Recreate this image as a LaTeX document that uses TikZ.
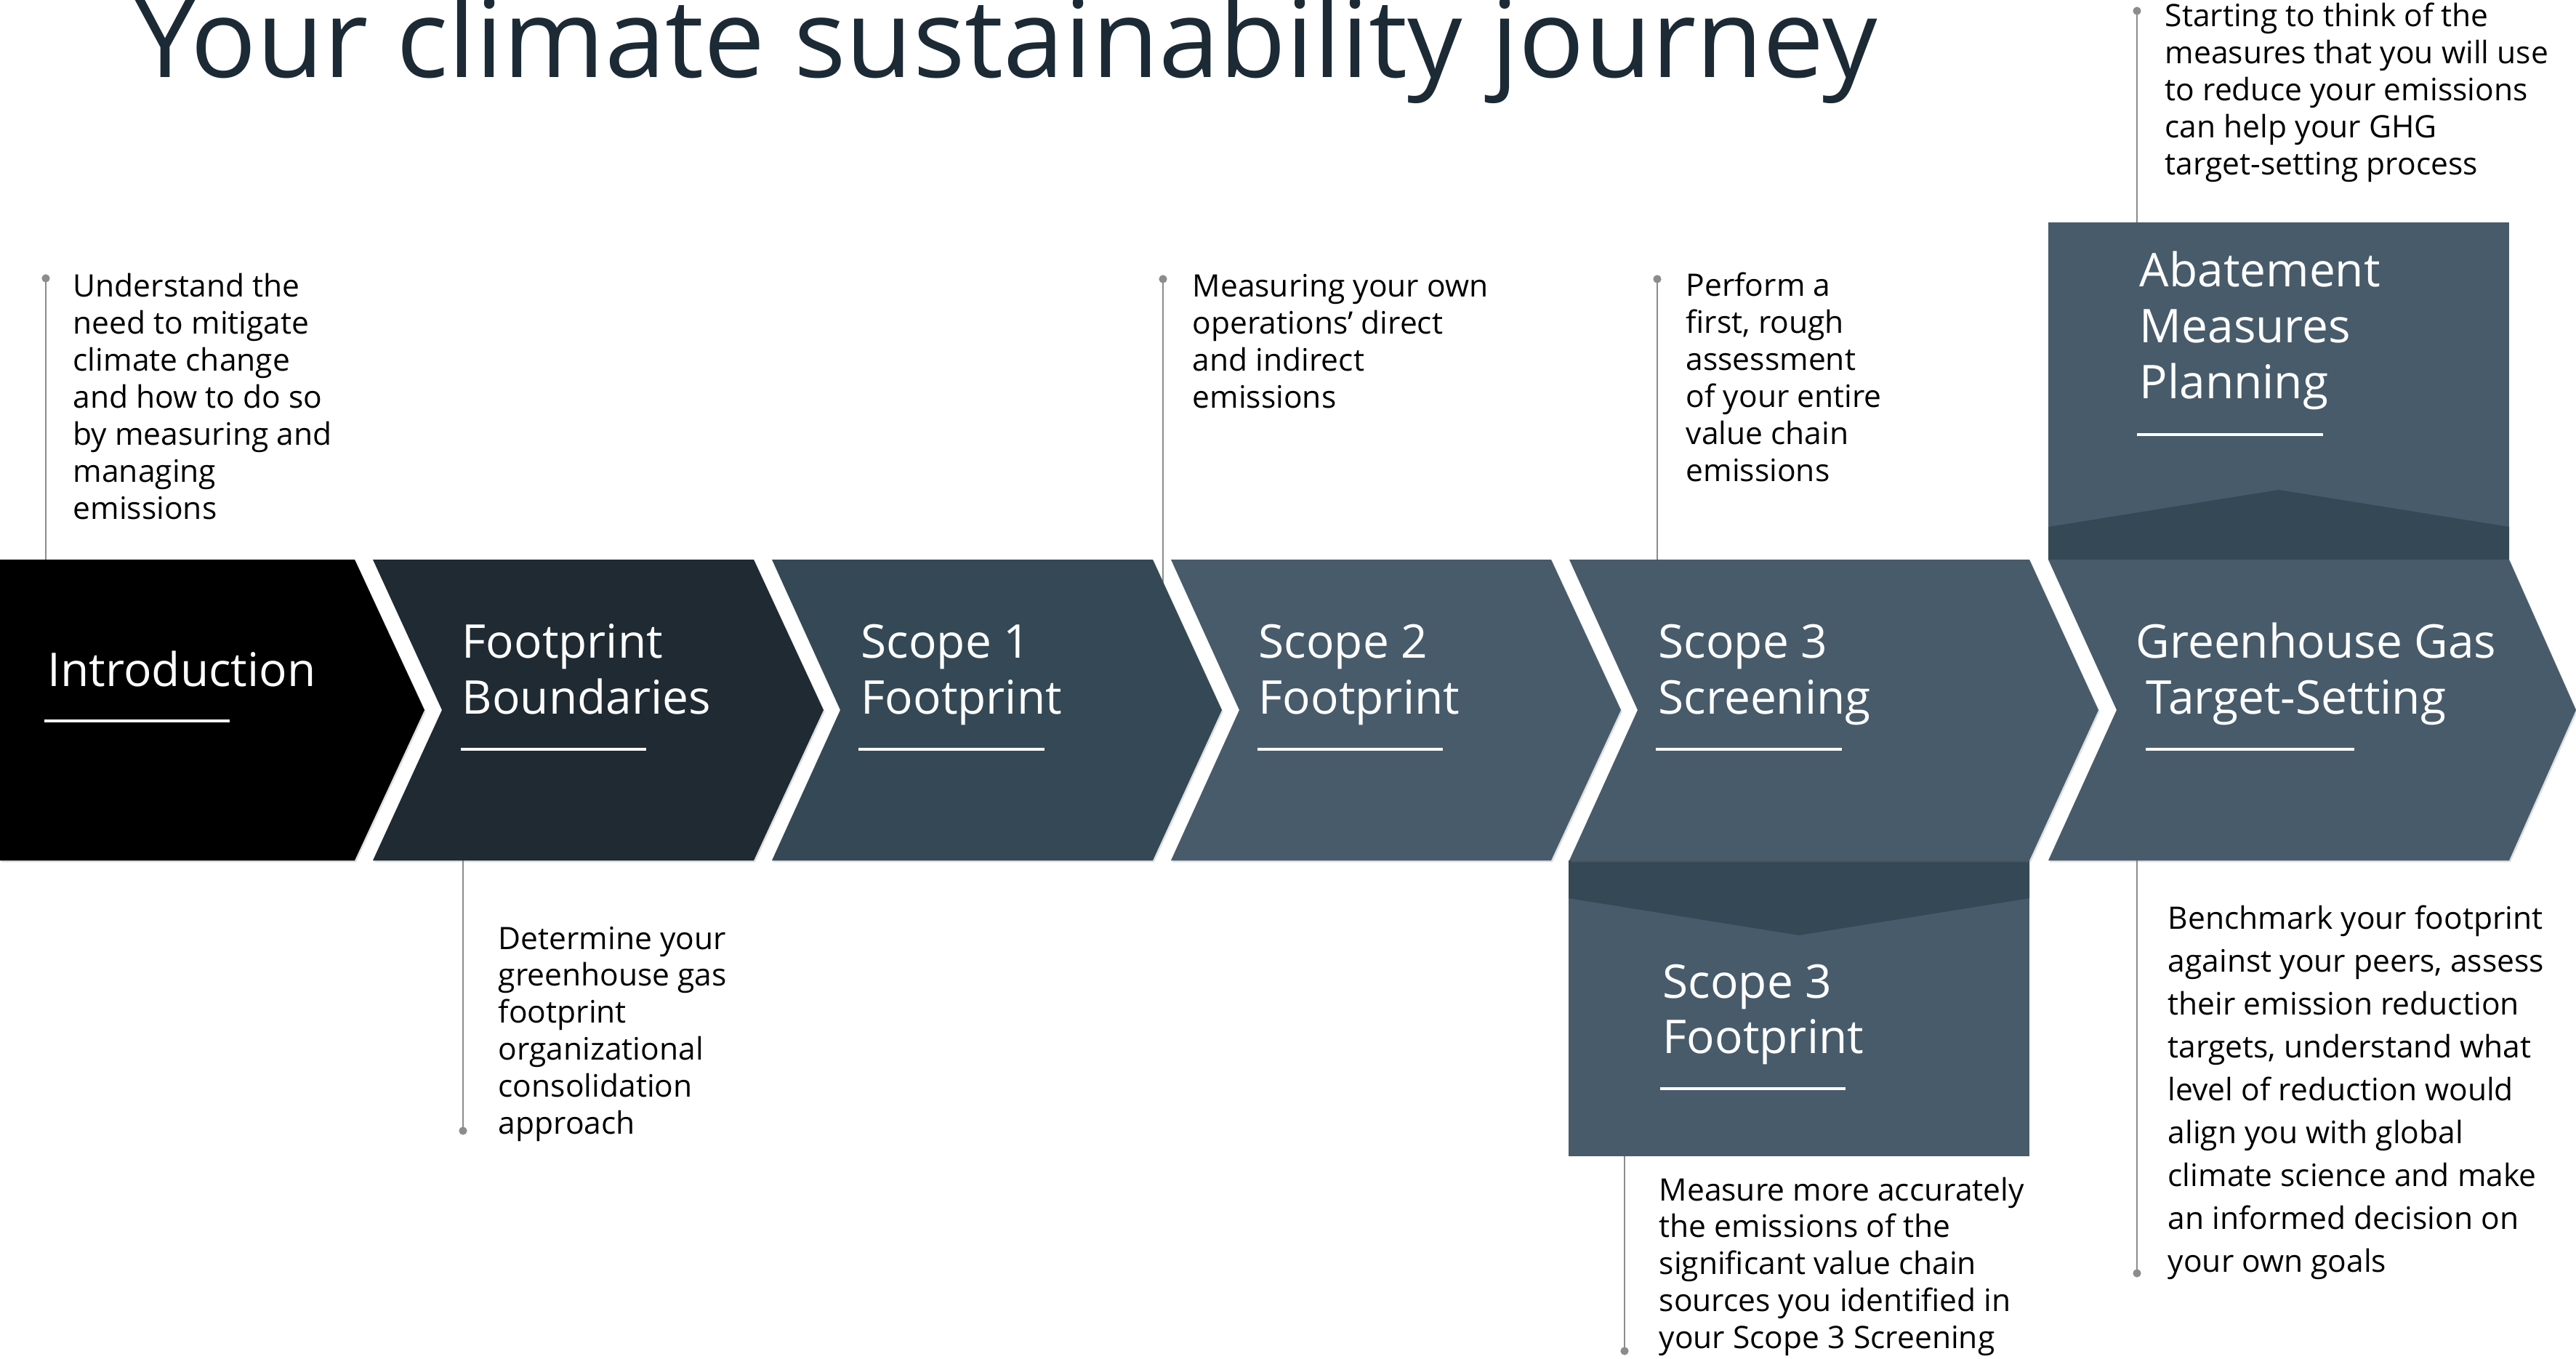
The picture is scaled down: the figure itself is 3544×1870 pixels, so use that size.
\documentclass[tikz,border=0pt]{standalone}
\usepackage{fontspec}
\setmainfont{Open Sans}
\usetikzlibrary{shadows}
\definecolor{cA}{HTML}{000000}
\definecolor{cB}{HTML}{1F2A33}
\definecolor{cC}{HTML}{344955}
\definecolor{cD}{HTML}{485B6B}
\definecolor{titlecol}{HTML}{1C2A36}
\definecolor{conncol}{HTML}{8C8C8C}
\newcommand\mlines[1]{\parbox[t]{9cm}{\raggedright #1}}
\begin{document}
\begin{tikzpicture}[x=0.01cm,y=-0.01cm,
  chev/.style={drop shadow={shadow xshift=0.5pt,shadow yshift=-0.7pt,opacity=0.25}},
  conn/.style={draw=conncol,line width=0.8pt},
  dotm/.style={fill=conncol},
  desc/.style={anchor=base west,inner sep=0pt,font=\fontsize{12.1}{14.5}\selectfont,text=black},
  descwide/.style={anchor=base west,inner sep=0pt,font=\fontsize{12.1}{16.8}\selectfont,text=black},
  ttl/.style={anchor=base west,inner sep=0pt,font=\fontsize{18.2}{21.8}\selectfont,text=white},
  uline/.style={draw=white,line width=1.2pt}
]
\useasboundingbox (0,0) rectangle (3544,1870);
\fill[white] (0,0) rectangle (3544,1870);

% title
\node[anchor=base west,inner sep=0pt,font=\fontsize{42.7}{50}\selectfont,text=titlecol] (title) at (185,107) {Your climate sustainability journey};

% connector coordinates
\coordinate (d1) at (63,383);   \coordinate (e1) at (63,800);
\coordinate (d2) at (1600,384); \coordinate (e2) at (1600,840);
\coordinate (d3) at (2280,384); \coordinate (e3) at (2280,800);
\coordinate (d4) at (2940,15);  \coordinate (e4) at (2940,330);
\coordinate (d5) at (637,1556); \coordinate (e5) at (637,1160);
\coordinate (d6) at (2235,1859);\coordinate (e6) at (2235,1570);
\coordinate (d7) at (2940,1752);\coordinate (e7) at (2940,1160);
\foreach \i in {1,...,7}{
  \draw[conn] (d\i) -- (e\i);
  \fill[dotm] (d\i) circle[radius=1.6pt];
}

% side boxes
\fill[cD] (2818,306) rectangle (3452,770);
\fill[cC] (2818,725) -- (3135,674) -- (3452,725) -- (3452,770) -- (2818,770) -- cycle;
\fill[cD] (2158,1184) rectangle (2792,1591);
\fill[cC] (2158,1184) -- (2792,1184) -- (2792,1236) -- (2475,1287) -- (2158,1236) -- cycle;

% chevrons
\fill[cA,chev] (0,770) -- (488,770) -- (584,977) -- (488,1184) -- (0,1184) -- cycle;
\fill[cB,chev] (513,770) -- (1037,770) -- (1133,977) -- (1037,1184) -- (513,1184) -- (608,977) -- cycle;
\fill[cC,chev] (1062,770) -- (1586,770) -- (1681,977) -- (1586,1184) -- (1062,1184) -- (1156,977) -- cycle;
\fill[cD,chev] (1611,770) -- (2134,770) -- (2230,977) -- (2134,1184) -- (1611,1184) -- (1705,977) -- cycle;
\fill[cD,chev] (2159,770) -- (2792,770) -- (2887,977) -- (2792,1184) -- (2159,1184) -- (2253,977) -- cycle;
\fill[cD,chev] (2818,770) -- (3452,770) -- (3544,977) -- (3452,1184) -- (2818,1184) -- (2912,977) -- cycle;

% chevron titles
\node[ttl] (tIntro) at (65,944) {Introduction};
\draw[uline] (61,992) -- (316,992);
\node[ttl] (tFB) at (635,906) {\mlines{Footprint\\Boundaries}};
\draw[uline] (634,1031) -- (889,1031);
\node[ttl] (tS1) at (1184,906) {\mlines{Scope 1\\Footprint}};
\draw[uline] (1181,1031) -- (1437,1031);
\node[ttl] (tS2) at (1731,906) {\mlines{Scope 2\\Footprint}};
\draw[uline] (1730,1031) -- (1985,1031);
\node[ttl] (tS3) at (2281,906) {\mlines{Scope 3\\Screening}};
\draw[uline] (2278,1031) -- (2534,1031);
\node[ttl] (tGHG) at (2938,906) {\mlines{Greenhouse Gas\\\hspace*{4pt}Target-Setting}};
\draw[uline] (2952,1031) -- (3239,1031);
\node[ttl] (tAb) at (2943,395) {\mlines{Abatement\\Measures\\Planning}};
\draw[uline] (2940,598) -- (3196,598);
\node[ttl] (tS3F) at (2287,1373) {\mlines{Scope 3\\Footprint}};
\draw[uline] (2284,1498) -- (2539,1498);

% descriptions
\node[desc] (xIntro) at (100,409) {\mlines{Understand the\\need to mitigate\\climate change\\and how to do so\\by measuring and\\managing\\emissions}};
\node[desc] (xS2) at (1640,409) {\mlines{Measuring your own\\operations’ direct\\and indirect\\emissions}};
\node[desc] (xS3) at (2319,408) {\mlines{Perform a\\first, rough\\assessment\\of your entire\\value chain\\emissions}};
\node[desc] (xAb) at (2978,37) {\mlines{Starting to think of the\\measures that you will use\\to reduce your emissions\\can help your GHG\\target-setting process}};
\node[desc] (xFB) at (685,1306) {\mlines{Determine your\\greenhouse gas\\footprint\\organizational\\consolidation\\approach}};
\node[desc] (xS3F) at (2282,1652) {\mlines{Measure more accurately\\the emissions of the\\significant value chain\\sources you identified in\\your Scope 3 Screening}};
\node[descwide] (xGHG) at (2982,1278) {\mlines{Benchmark your footprint\\against your peers, assess\\their emission reduction\\targets, understand what\\level of reduction would\\align you with global\\climate science and make\\an informed decision on\\your own goals}};
\end{tikzpicture}
\end{document}
